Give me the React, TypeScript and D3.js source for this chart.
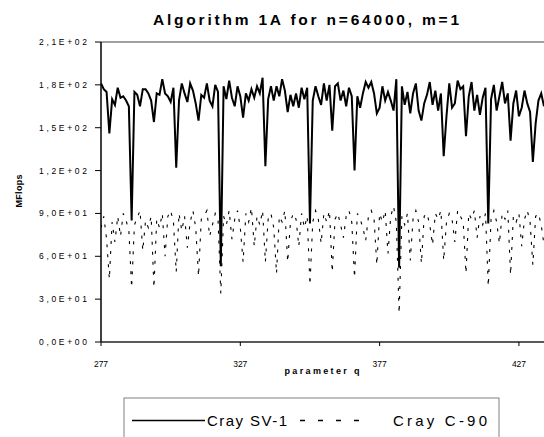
import React from "react";
import * as d3 from "d3";

const qStart = 277;
const qEnd = 436;
const xTicks = [277, 327, 377, 427];
const yTicks = [0, 30, 60, 90, 120, 150, 180, 210];
const yTickLabels = ["0,0E+00", "3,0E+01", "6,0E+01", "9,0E+01", "1,2E+02", "1,5E+02", "1,8E+02", "2,1E+02"];

// Cray SV-1, q = 277..436
const svValues = [
  181, 177, 175, 146, 170, 166, 178, 171, 172, 169,
  165, 85, 175, 173, 165, 177, 177, 174, 169, 154,
  174, 173, 184, 174, 172, 168, 178, 122, 169, 181,
  174, 168, 181, 176, 167, 155, 173, 171, 181, 169,
  165, 180, 175, 53, 179, 170, 183, 171, 165, 179,
  172, 157, 174, 169, 177, 171, 179, 174, 185, 123,
  170, 179, 169, 179, 172, 184, 176, 161, 173, 165,
  174, 164, 178, 170, 178, 83, 169, 179, 172, 166,
  181, 169, 180, 148, 179, 181, 169, 176, 165, 178,
  172, 120, 172, 164, 174, 182, 178, 182, 174, 160,
  164, 179, 169, 175, 169, 162, 184, 52, 179, 166,
  175, 160, 174, 181, 162, 155, 167, 173, 182, 166,
  176, 162, 174, 130, 158, 181, 164, 167, 183, 177,
  179, 144, 172, 182, 162, 173, 159, 171, 178, 83,
  170, 180, 162, 172, 182, 167, 174, 141, 167, 176,
  158, 164, 176, 167, 161, 126, 153, 169, 174, 165,
];

// Cray C-90, q = 277..436
const c90Values = [
  80, 88, 72, 44, 84, 70, 88, 74, 90, 85,
  78, 38, 82, 87, 92, 64, 85, 80, 88, 38,
  86, 80, 90, 60, 88, 92, 84, 49, 90, 78,
  88, 66, 84, 92, 80, 46, 86, 88, 92, 74,
  82, 90, 86, 34, 88, 82, 92, 72, 86, 92,
  80, 56, 90, 84, 94, 67, 88, 82, 92, 56,
  86, 90, 80, 48, 88, 84, 92, 56, 84, 90,
  86, 67, 90, 80, 88, 40, 84, 92, 86, 69,
  90, 84, 92, 49, 86, 90, 82, 73, 88, 92,
  84, 45, 90, 86, 80, 71, 88, 92, 86, 54,
  90, 84, 92, 62, 88, 95, 84, 20, 88, 82,
  90, 57, 86, 92, 84, 55, 88, 90, 82, 68,
  90, 86, 92, 57, 84, 90, 86, 70, 92, 88,
  84, 48, 90, 86, 92, 73, 88, 82, 90, 39,
  86, 92, 84, 69, 90, 86, 92, 47, 88, 84,
  90, 67, 86, 92, 84, 54, 88, 90, 82, 68,
];

const qValues = d3.range(qStart, qEnd + 1);

const W = 544;
const H = 437;
const left = 101;
const right = 544;
const top = 42;
const bottom = 342;
const font = "'Liberation Sans', Arial, sans-serif";

export default function App() {
  const x = d3.scaleLinear().domain([qStart, qEnd]).range([left, right]);
  const y = d3.scaleLinear().domain([0, 210]).range([bottom, top]);
  const line = d3
    .line<number>()
    .x((_, i) => x(qValues[i]))
    .y((d) => y(d));

  return (
    <svg
      width={W}
      height={H}
      style={{ position: "absolute", left: 0, top: 0, background: "#fff" }}
      fontFamily={font}
    >
      <rect x={0} y={0} width={W} height={H} fill="#fff" />
      <text x={306} y={25} textAnchor="middle" fontSize={15.5} fontWeight="bold" textLength={306} lengthAdjust="spacing">
        Algorithm 1A for n=64000, m=1
      </text>

      {/* plot frame */}
      <line x1={left} x2={right} y1={top} y2={top} stroke="#808080" strokeWidth={1.5} />

      <clipPath id="plotclip">
        <rect x={left} y={top - 2} width={right - left} height={bottom - top + 4} />
      </clipPath>
      <g clipPath="url(#plotclip)">
        <path d={line(c90Values) || ""} fill="none" stroke="#000" strokeWidth={1.1} strokeDasharray="3,7" />
        <path d={line(svValues) || ""} fill="none" stroke="#000" strokeWidth={2} strokeLinejoin="miter" />
      </g>

      {/* axes */}
      <line x1={left} x2={left} y1={top} y2={bottom} stroke="#000" strokeWidth={1.5} />
      <line x1={left} x2={right} y1={bottom} y2={bottom} stroke="#222" strokeWidth={1.5} />

      {yTicks.map((t, i) => (
        <g key={t}>
          <line x1={left - 6} x2={left} y1={y(t)} y2={y(t)} stroke="#000" strokeWidth={1} />
          <text x={87} y={y(t) + 3} textAnchor="end" fontSize={8.5} textLength={48} lengthAdjust="spacing" fill="#000">
            {yTickLabels[i]}
          </text>
        </g>
      ))}
      {xTicks.map((t) => (
        <g key={t}>
          <line x1={x(t)} x2={x(t)} y1={bottom} y2={bottom + 4} stroke="#000" strokeWidth={1} />
          <text x={x(t)} y={367} textAnchor="middle" fontSize={8.5} textLength={14} lengthAdjust="spacing">
            {t}
          </text>
        </g>
      ))}

      <text
        transform={`translate(22,191) rotate(-90)`}
        textAnchor="middle"
        fontSize={9}
        fontWeight="bold"
        textLength={33}
        lengthAdjust="spacing"
      >
        MFlops
      </text>
      <text x={322} y={374} textAnchor="middle" fontSize={9} fontWeight="bold" textLength={75} lengthAdjust="spacing">
        parameter q
      </text>

      {/* legend */}
      <rect x={124} y={398} width={375} height={60} fill="none" stroke="#808080" strokeWidth={1} />
      <line x1={132} x2={205} y1={420.5} y2={420.5} stroke="#000" strokeWidth={1.5} />
      <text x={207} y={426} fontSize={15} textLength={80} lengthAdjust="spacing">
        Cray SV-1
      </text>
      <line x1={300} x2={362} y1={420.5} y2={420.5} stroke="#000" strokeWidth={1.3} strokeDasharray="5,13" />
      <text x={393} y={426} fontSize={15} textLength={94} lengthAdjust="spacing">
        Cray C-90
      </text>
    </svg>
  );
}
